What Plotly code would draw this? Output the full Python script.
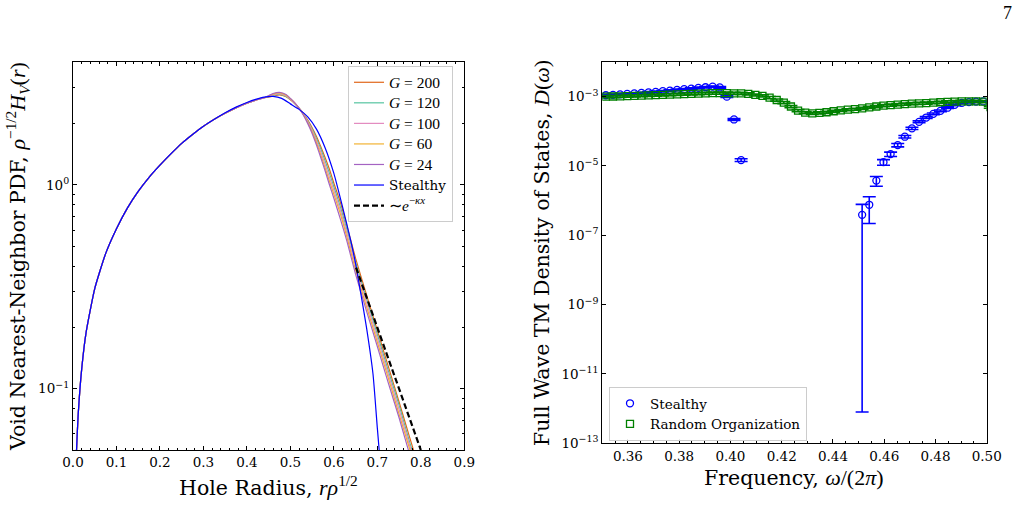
import plotly.graph_objects as go

# ---------------- Left panel data: void nearest-neighbor PDF ----------------
x_rise = [0.007, 0.012, 0.02, 0.03, 0.05, 0.075, 0.1, 0.125, 0.15, 0.175, 0.2, 0.225, 0.25,
          0.275, 0.3, 0.325, 0.35, 0.375, 0.4, 0.42, 0.44]
y_rise = [0.044, 0.075, 0.125, 0.188, 0.31, 0.46, 0.61, 0.77, 0.93, 1.09, 1.25, 1.42, 1.60,
          1.77, 1.94, 2.10, 2.25, 2.39, 2.52, 2.61, 2.68]

x_tail = [0.46, 0.475, 0.49, 0.5, 0.51, 0.52, 0.53, 0.54, 0.55, 0.56, 0.57, 0.58, 0.59,
          0.6, 0.615, 0.63, 0.65, 0.675, 0.7, 0.725, 0.75, 0.775, 0.8]
g200_tail = [2.73, 2.77, 2.71, 2.62, 2.51, 2.38, 2.24, 2.08, 1.91, 1.73, 1.54, 1.36, 1.19,
             1.02, 0.82, 0.63, 0.436, 0.289, 0.193, 0.129, 0.086, 0.057, 0.038]
g120_tail = [2.75, 2.79, 2.72, 2.63, 2.51, 2.38, 2.23, 2.06, 1.88, 1.69, 1.50, 1.31, 1.14,
             0.98, 0.78, 0.605, 0.418, 0.277, 0.185, 0.123, 0.083, 0.054, 0.037]
g100_tail = [2.77, 2.81, 2.74, 2.64, 2.52, 2.38, 2.22, 2.04, 1.85, 1.65, 1.45, 1.26, 1.09,
             0.94, 0.75, 0.58, 0.40, 0.265, 0.177, 0.118, 0.079, 0.052, 0.035]
g60_tail = [2.79, 2.83, 2.76, 2.65, 2.53, 2.38, 2.21, 2.02, 1.82, 1.61, 1.40, 1.21, 1.04,
            0.90, 0.72, 0.555, 0.382, 0.253, 0.169, 0.113, 0.075, 0.050, 0.033]
g24_tail = [2.81, 2.85, 2.78, 2.66, 2.53, 2.38, 2.20, 2.00, 1.79, 1.57, 1.36, 1.17, 1.00,
            0.86, 0.68, 0.53, 0.364, 0.241, 0.161, 0.107, 0.072, 0.047, 0.032]

x_stealthy = [0.007, 0.012, 0.02, 0.03, 0.05, 0.075, 0.1, 0.125, 0.15, 0.175, 0.2, 0.225, 0.25,
              0.275, 0.3, 0.325, 0.35, 0.375, 0.4, 0.42, 0.44,
              0.46, 0.48, 0.5, 0.52, 0.54, 0.56, 0.58, 0.6, 0.62, 0.64, 0.65, 0.66, 0.675,
              0.69, 0.7, 0.706]
y_stealthy = [0.044, 0.075, 0.125, 0.188, 0.31, 0.46, 0.61, 0.77, 0.93, 1.09, 1.25, 1.42, 1.60,
              1.77, 1.94, 2.10, 2.26, 2.41, 2.54, 2.63, 2.70,
              2.72, 2.66, 2.50, 2.35, 2.16, 1.88, 1.52, 1.14, 0.78, 0.52, 0.41, 0.31, 0.20,
              0.118, 0.064, 0.045]

x_kappa = [0.651, 0.80]
y_kappa = [0.393, 0.05]

g_labels = ["200", "120", "100", "60", "24"]
g_colors = ["#e0661a", "#55c4a0", "#e38cc0", "#f2b233", "#a463c2"]

# ---------------- Right panel data: density of states ----------------
freq_all = [0.35139, 0.35417, 0.35694, 0.35972, 0.36250, 0.36528, 0.36806, 0.37083, 0.37361,
            0.37639, 0.37917, 0.38194, 0.38472, 0.38750, 0.39028, 0.39306, 0.39583, 0.39861,
            0.40139, 0.40417, 0.40694, 0.40972, 0.41250, 0.41528, 0.41806, 0.42083, 0.42361,
            0.42639, 0.42917, 0.43194, 0.43472, 0.43750, 0.44028, 0.44306, 0.44583, 0.44861,
            0.45139, 0.45417, 0.45694, 0.45972, 0.46250, 0.46528, 0.46806, 0.47083, 0.47361,
            0.47639, 0.47917, 0.48194, 0.48472, 0.48750, 0.49028, 0.49306, 0.49583, 0.49861,
            0.50139]
dos_random = [1.00e-3, 1.01e-3, 1.02e-3, 1.04e-3, 1.05e-3, 1.07e-3, 1.09e-3, 1.11e-3, 1.13e-3,
              1.15e-3, 1.17e-3, 1.19e-3, 1.21e-3, 1.23e-3, 1.25e-3, 1.26e-3, 1.26e-3, 1.26e-3,
              1.25e-3, 1.24e-3, 1.20e-3, 1.12e-3, 1.05e-3, 9.4e-4, 8.0e-4, 6.7e-4, 5.2e-4,
              3.95e-4, 3.45e-4, 3.3e-4, 3.4e-4, 3.55e-4, 3.8e-4, 4.0e-4, 4.2e-4, 4.35e-4,
              4.6e-4, 4.9e-4, 5.2e-4, 5.5e-4, 5.7e-4, 5.9e-4, 6.1e-4, 6.3e-4, 6.4e-4,
              6.5e-4, 6.7e-4, 6.9e-4, 7.1e-4, 7.2e-4, 7.3e-4, 7.3e-4, 7.3e-4, 7.2e-4,
              5.0e-4]
err_random = [7.0e-5, 7.1e-5, 7.1e-5, 7.3e-5, 7.4e-5, 7.5e-5, 7.6e-5, 7.8e-5, 7.9e-5,
              8.0e-5, 8.2e-5, 8.3e-5, 8.5e-5, 8.6e-5, 8.8e-5, 8.8e-5, 8.8e-5, 8.8e-5,
              8.8e-5, 8.7e-5, 8.4e-5, 7.8e-5, 7.4e-5, 6.6e-5, 5.6e-5, 4.7e-5, 3.6e-5,
              2.8e-5, 2.4e-5, 2.3e-5, 2.4e-5, 2.5e-5, 2.7e-5, 2.8e-5, 2.9e-5, 3.0e-5,
              3.2e-5, 3.4e-5, 3.6e-5, 3.9e-5, 4.0e-5, 4.1e-5, 4.3e-5, 4.4e-5, 4.5e-5,
              4.6e-5, 4.7e-5, 4.8e-5, 5.0e-5, 5.0e-5, 5.1e-5, 5.1e-5, 5.1e-5, 5.0e-5,
              3.5e-5]

freq_stealthy = [0.35139, 0.35417, 0.35694, 0.35972, 0.36250, 0.36528, 0.36806, 0.37083,
                 0.37361, 0.37639, 0.37917, 0.38194, 0.38472, 0.38750, 0.39028, 0.39306,
                 0.39583, 0.39861, 0.40139, 0.40417,
                 0.45139, 0.45417, 0.45694, 0.45972, 0.46250, 0.46528, 0.46806, 0.47083,
                 0.47361, 0.47639, 0.47917, 0.48194, 0.48472, 0.48750, 0.49028, 0.49306,
                 0.49583, 0.49861]
dos_stealthy = [1.10e-3, 1.13e-3, 1.16e-3, 1.20e-3, 1.24e-3, 1.28e-3, 1.33e-3, 1.38e-3,
                1.44e-3, 1.50e-3, 1.57e-3, 1.64e-3, 1.71e-3, 1.79e-3, 1.87e-3, 1.94e-3,
                1.85e-3, 1.00e-3, 2.2e-4, 1.48e-5,
                3.9e-7, 7.6e-7, 3.8e-6, 1.29e-5, 2.2e-5, 4.0e-5, 7.0e-5, 1.22e-4,
                1.88e-4, 2.5e-4, 3.2e-4, 3.9e-4, 4.8e-4, 5.8e-4, 6.6e-4, 7.0e-4,
                7.2e-4, 7.3e-4]
err_stealthy = [5.5e-5, 5.7e-5, 5.8e-5, 6.0e-5, 6.2e-5, 6.4e-5, 6.7e-5, 6.9e-5,
                7.2e-5, 7.5e-5, 7.9e-5, 8.2e-5, 8.6e-5, 9.0e-5, 9.4e-5, 9.7e-5,
                9.3e-5, 5.5e-5, 1.3e-5, 1.3e-6,
                3.899992e-7, 5.4e-7, 1.2e-6, 2.4e-6, 3.2e-6, 4.5e-6, 6.0e-6, 9.0e-6,
                1.2e-5, 1.5e-5, 1.9e-5, 2.2e-5, 2.6e-5, 3.1e-5, 3.5e-5, 3.6e-5,
                3.6e-5, 3.6e-5]

# ---------------- Figure ----------------
W, H = 1018, 526
SERIF = "DejaVu Serif"
MATH = "Liberation Serif"


def m(s, size=None):
    st = f"font-family:{MATH}"
    if size:
        st += f";font-size:{size}px"
    return f'<span style="{st}">{s}</span>'


fig = go.Figure()

g_tails = [g200_tail, g120_tail, g100_tail, g60_tail, g24_tail]
for lab, col, tail in zip(g_labels, g_colors, g_tails):
    fig.add_trace(go.Scatter(
        x=x_rise + x_tail, y=y_rise + tail, mode="lines",
        line=dict(color=col, width=1.2, shape="spline", smoothing=0.5),
        name=m(f"<i>G</i> = {lab}", 15.5), legend="legend", xaxis="x", yaxis="y"))

fig.add_trace(go.Scatter(
    x=x_stealthy, y=y_stealthy, mode="lines",
    line=dict(color="#0000ff", width=1.2, shape="spline", smoothing=0.5),
    name="Stealthy", legend="legend", xaxis="x", yaxis="y"))

fig.add_trace(go.Scatter(
    x=x_kappa, y=y_kappa, mode="lines",
    line=dict(color="black", width=2.2, dash="6px,3px"),
    name=m("∼<i>e</i><sup>−<i>κx</i></sup>", 15.5), legend="legend", xaxis="x", yaxis="y"))

fig.add_trace(go.Scatter(
    x=freq_stealthy, y=dos_stealthy, mode="markers", name="Stealthy",
    marker=dict(symbol="circle-open", size=7, color="#0000ff", line=dict(width=1.3, color="#0000ff")),
    error_y=dict(type="data", array=err_stealthy, visible=True, color="#0000ff",
                 thickness=1.6, width=6.5),
    legend="legend2", xaxis="x2", yaxis="y2"))

fig.add_trace(go.Scatter(
    x=freq_all, y=dos_random, mode="markers", name="Random Organization",
    marker=dict(symbol="square-open", size=7, color="#008000", line=dict(width=1.3, color="#008000")),
    error_y=dict(type="data", array=err_random, visible=True, color="#008000",
                 thickness=1.6, width=6.5),
    legend="legend2", xaxis="x2", yaxis="y2"))

axis_common = dict(showline=True, linecolor="black", linewidth=1.2, mirror="ticks",
                   ticks="inside", ticklen=4, tickwidth=1, tickcolor="black",
                   showgrid=False, zeroline=False, automargin=False,
                   tickfont=dict(family=SERIF, size=13.5, color="black"))

left_dom_x = [73.0 / W, 464.3 / W]
left_dom_y = [1 - 450 / H, 1 - 62.3 / H]
right_dom_x = [602.3 / W, 986.7 / W]
right_dom_y = [1 - 443.3 / H, 1 - 62 / H]

fig.update_layout(
    width=W, height=H, margin=dict(l=0, r=0, t=0, b=0, pad=0, autoexpand=False),
    paper_bgcolor="white", plot_bgcolor="white",
    font=dict(family=SERIF, color="black"),
    xaxis=dict(domain=left_dom_x, anchor="y", range=[0, 0.9], dtick=0.1, tickformat=".1f",
               minor=dict(ticks="inside", ticklen=2, tickcolor="black", dtick=0.02),
               **axis_common),
    yaxis=dict(domain=left_dom_y, anchor="x", type="log", range=[-1.30103, 0.60206],
               tickvals=[0.1, 1], ticktext=["10<sup>−1</sup>", "10<sup>0</sup>"],
               minor=dict(ticks="inside", ticklen=2, tickcolor="black",
                          tickvals=[0.05, 0.06, 0.07, 0.08, 0.09, 0.2, 0.3, 0.4, 0.5,
                                    0.6, 0.7, 0.8, 0.9, 2, 3, 4]),
               **axis_common),
    xaxis2=dict(domain=right_dom_x, anchor="y2", range=[0.35, 0.5], dtick=0.02,
                tick0=0.36, tickformat=".2f",
                minor=dict(ticks="inside", ticklen=2, tickcolor="black", dtick=0.005),
                **axis_common),
    yaxis2=dict(domain=right_dom_y, anchor="x2", type="log", range=[-13, -2],
                tickvals=[1e-13, 1e-11, 1e-9, 1e-7, 1e-5, 1e-3],
                ticktext=["10<sup>−13</sup>", "10<sup>−11</sup>", "10<sup>−9</sup>",
                          "10<sup>−7</sup>", "10<sup>−5</sup>", "10<sup>−3</sup>"],
                **axis_common),
    legend=dict(x=348 / W, y=1 - 66 / H, xanchor="left", yanchor="top",
                bgcolor="rgba(255,255,255,0.9)", bordercolor="#cccccc", borderwidth=1,
                font=dict(family=SERIF, size=13.5, color="black")),
    legend2=dict(x=609 / W, y=1 - 387 / H, xanchor="left", yanchor="top",
                 bgcolor="rgba(255,255,255,0.9)", bordercolor="#cccccc", borderwidth=1,
                 font=dict(family=SERIF, size=13.5, color="black")),
    showlegend=True,
)

annots = [
    dict(text="Hole Radius, " + m("<i>rρ</i><sup>1/2</sup>", 22), x=268.5 / W, y=1 - 486 / H,
         font=dict(size=20.5)),
    dict(text="Frequency, " + m("<i>ω</i>/(2<i>π</i>)", 22), x=794 / W, y=1 - 477 / H,
         font=dict(size=20.5)),
    dict(text="Void Nearest-Neighbor PDF, " + m("<i>ρ</i><sup>−1/2</sup><i>H</i><sub><i>V</i></sub>(<i>r</i>)", 22),
         x=17 / W, y=1 - 257 / H, textangle=-90, font=dict(size=20.5)),
    dict(text="Full Wave TM Density of States, " + m("<i>D</i>(<i>ω</i>)", 22),
         x=542 / W, y=1 - 253 / H, textangle=-90, font=dict(size=20.5)),
    dict(text="7", x=1007 / W, y=1 - 13.5 / H, font=dict(size=18, family=MATH)),
]
for a in annots:
    fig.add_annotation(xref="paper", yref="paper", showarrow=False,
                       xanchor="center", yanchor="middle", **a)

fig.write_html("out.html")
